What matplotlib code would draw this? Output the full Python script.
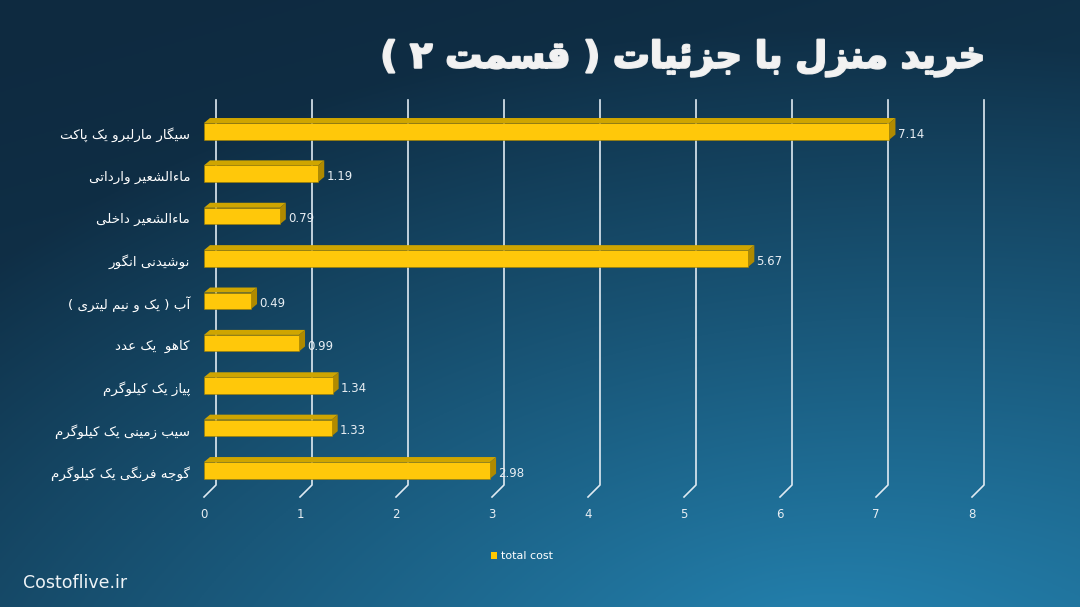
import numpy as np
import matplotlib
matplotlib.use('Agg')
import matplotlib.pyplot as plt
import matplotlib.patheffects as pe
from matplotlib.patches import Polygon, Patch

# data
items = ['سیگار مارلبرو یک پاکت', 'ماءالشعیر وارداتی', 'ماءالشعیر داخلی', 'نوشیدنی انگور',
         'آب ( یک و نیم لیتری )', 'کاهو  یک عدد', 'پیاز یک کیلوگرم', 'سیب زمینی یک کیلوگرم',
         'گوجه فرنگی یک کیلوگرم']
total_cost = [7.14, 1.19, 0.79, 5.67, 0.49, 0.99, 1.34, 1.33, 2.98]
x_ticks = [0, 1, 2, 3, 4, 5, 6, 7, 8]
title = 'خرید منزل با جزئیات ( قسمت ۲ )'
series_name = 'total cost'
site = 'Costoflive.ir'

# minimal persian shaping: (isolated, final, initial, medial)
FORMS = {
    'ا': (0xFE8D, 0xFE8E), 'آ': (0xFE81, 0xFE82), 'د': (0xFEA9, 0xFEAA),
    'ر': (0xFEAD, 0xFEAE), 'ز': (0xFEAF, 0xFEB0), 'و': (0xFEED, 0xFEEE),
    'ء': (0xFE80,),
    'ب': (0xFE8F, 0xFE90, 0xFE91, 0xFE92), 'پ': (0xFB56, 0xFB57, 0xFB58, 0xFB59),
    'ت': (0xFE95, 0xFE96, 0xFE97, 0xFE98), 'ج': (0xFE9D, 0xFE9E, 0xFE9F, 0xFEA0),
    'خ': (0xFEA5, 0xFEA6, 0xFEA7, 0xFEA8), 'س': (0xFEB1, 0xFEB2, 0xFEB3, 0xFEB4),
    'ش': (0xFEB5, 0xFEB6, 0xFEB7, 0xFEB8), 'ع': (0xFEC9, 0xFECA, 0xFECB, 0xFECC),
    'ف': (0xFED1, 0xFED2, 0xFED3, 0xFED4), 'ق': (0xFED5, 0xFED6, 0xFED7, 0xFED8),
    'ک': (0xFB8E, 0xFB8F, 0xFB90, 0xFB91), 'گ': (0xFB92, 0xFB93, 0xFB94, 0xFB95),
    'ل': (0xFEDD, 0xFEDE, 0xFEDF, 0xFEE0), 'م': (0xFEE1, 0xFEE2, 0xFEE3, 0xFEE4),
    'ن': (0xFEE5, 0xFEE6, 0xFEE7, 0xFEE8), 'ه': (0xFEE9, 0xFEEA, 0xFEEB, 0xFEEC),
    'ی': (0xFBFC, 0xFBFD, 0xFBFE, 0xFBFF), 'ئ': (0xFE89, 0xFE8A, 0xFE8B, 0xFE8C),
}
MIRROR = {'(': ')', ')': '('}


def fa(s):
    out = []
    for i, c in enumerate(s):
        f = FORMS.get(c)
        if f is None:
            out.append(MIRROR.get(c, c))
            continue
        prev = s[i - 1] if i > 0 else ''
        nxt = s[i + 1] if i + 1 < len(s) else ''
        join_prev = prev in FORMS and len(FORMS[prev]) == 4 and len(f) > 1
        join_next = len(f) == 4 and nxt in FORMS and len(FORMS[nxt]) > 1
        if join_prev and join_next:
            k = 3
        elif join_prev:
            k = 1
        elif join_next:
            k = 2
        else:
            k = 0
        out.append(chr(f[k]))
    return ''.join(out[::-1])


fig = plt.figure(figsize=(10.8, 6.07), dpi=100)

# background gradient
bg = fig.add_axes([0, 0, 1, 1], zorder=-10)
gx, gy = np.meshgrid(np.linspace(0, 1, 540), np.linspace(0, 1, 304))
radial = np.clip(1 - np.sqrt(((gx - 0.75) / 0.95) ** 2 + ((gy - 1.05) / 1.0) ** 2), 0, 1)
diag = np.clip((gx * 0.5 + gy) / 1.5, 0, 1)
w = 0.65 * radial ** 0.9 + 0.35 * diag ** 1.5
dark = np.array([14, 42, 64]) / 255
light = np.array([36, 132, 178]) / 255
img = dark + (light - dark) * np.clip(w, 0, 1)[..., None]
bg.imshow(img, aspect='auto', extent=[0, 1, 0, 1], origin='upper')
bg.axis('off')

ax = fig.add_axes([204 / 1080, 110 / 607, 768 / 1080, 397 / 607])
ax.set_facecolor('none')
n = len(items)
ypos = np.arange(n)
ax.set_xlim(0, 8)
ax.set_ylim(8.66, -0.708)

# 3d depth (data units)
GX, GY = 0.125, 0.283
DX, DY = 0.0625, 0.118
floor = 8.66

for t in x_ticks:
    ax.plot([t, t + GX, t + GX], [floor, floor - GY, -0.708], color='#dfeaf2', lw=1.2, zorder=1,
            clip_on=False)

h = 0.39
yc = ypos + 0.03
ax.barh(yc, total_cost, height=h, color='#FFC80A', edgecolor='#9c7c00', linewidth=0.4, zorder=4,
        label=series_name)
for y, v in zip(yc, total_cost):
    yt, yb = y - h / 2, y + h / 2
    ax.add_patch(Polygon([(0, yt), (v, yt), (v + DX, yt - DY), (DX, yt - DY)], closed=True,
                         facecolor='#CFA500', edgecolor='none', zorder=3))
    ax.add_patch(Polygon([(v, yt), (v + DX, yt - DY), (v + DX, yb - DY), (v, yb)], closed=True,
                         facecolor='#B08A00', edgecolor='none', zorder=3))
    ax.text(v + 0.085, y + 0.07, f'{v:.2f}', color='#e8eef3', fontsize=8.5, va='center', ha='left',
            zorder=5)

ax.set_yticks(ypos + 0.07)
ax.set_yticklabels([fa(s) for s in items], fontsize=9.7, color='white', family='DejaVu Sans')
ax.set_xticks(x_ticks)
ax.set_xticklabels([str(t) for t in x_ticks], fontsize=8.5, color='#e8eef3')
ax.tick_params(axis='y', length=0, pad=10)
ax.tick_params(axis='x', length=0, pad=8)
for sp in ax.spines.values():
    sp.set_visible(False)

fig.text(0.911, 0.905, fa(title), fontsize=26.5, fontweight='bold', color='#f2f2f2', ha='right',
         va='center', family='DejaVu Sans',
         path_effects=[pe.withStroke(linewidth=1.6, foreground='#ececec')])
fig.text(0.021, 0.04, site, fontsize=12.5, color='#eef3f6', ha='left', va='center')
fig.legend(handles=[Patch(facecolor='#FFC800', label=series_name)], loc='center',
           bbox_to_anchor=(0.483, 0.084), frameon=False, fontsize=8, labelcolor='white',
           handlelength=0.6, handleheight=0.6, handletextpad=0.3)

fig.savefig('out.png', dpi=100)
